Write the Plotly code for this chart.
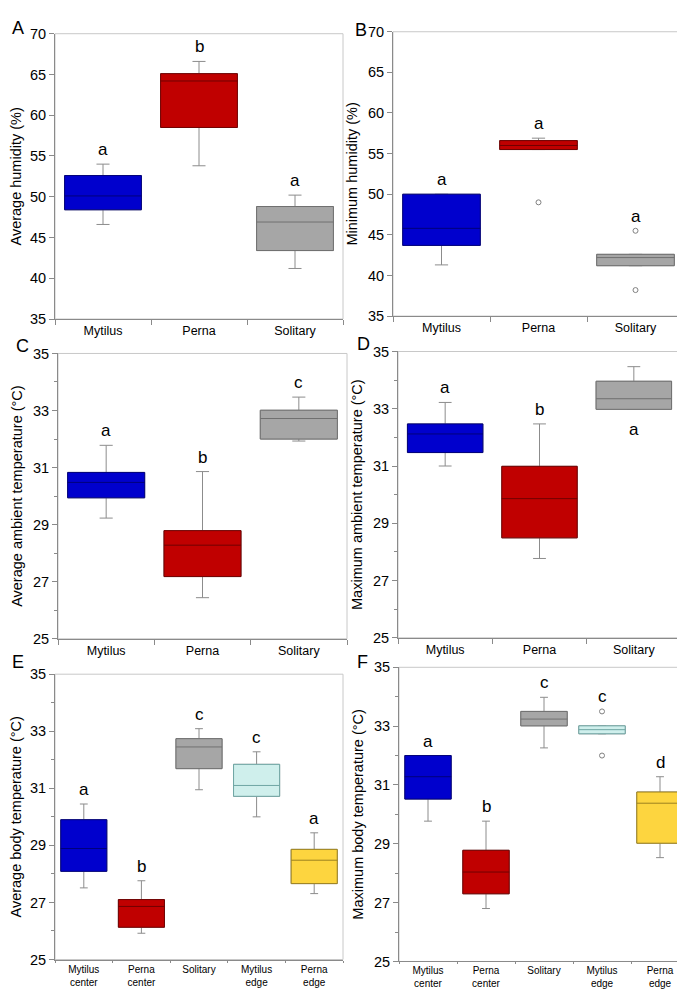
import plotly.graph_objects as go

W, H = 685, 990

# categories
groups3 = ["Mytilus", "Perna", "Solitary"]
groups5 = ["Mytilus<br>center", "Perna<br>center", "Solitary", "Mytilus<br>edge", "Perna<br>edge"]

# A - average humidity (%)
avg_hum_low = [46.6, 53.8, 41.2]
avg_hum_q1 = [48.4, 58.5, 43.4]
avg_hum_med = [50.1, 64.2, 46.9]
avg_hum_q3 = [52.6, 65.1, 48.8]
avg_hum_high = [54.0, 66.6, 50.2]
avg_hum_out = [[], [], []]
avg_hum_letters = ["a", "b", "a"]

# B - minimum humidity (%)
min_hum_low = [41.3, 55.5, 41.2]
min_hum_q1 = [43.7, 55.5, 41.2]
min_hum_med = [45.8, 56.0, 42.2]
min_hum_q3 = [50.0, 56.6, 42.6]
min_hum_high = [50.0, 56.9, 42.6]
min_hum_out = [[], [49.0], [45.5, 38.2]]
min_hum_letters = ["a", "a", "a"]

# C - average ambient temperature (°C)
avg_amb_low = [29.23, 26.44, 31.93]
avg_amb_q1 = [29.94, 27.18, 32.0]
avg_amb_med = [30.48, 28.28, 32.72]
avg_amb_q3 = [30.83, 28.79, 33.01]
avg_amb_high = [31.78, 30.86, 33.47]
avg_amb_out = [[], [], []]
avg_amb_letters = ["a", "b", "c"]

# D - maximum ambient temperature (°C)
max_amb_low = [31.0, 27.77, 32.98]
max_amb_q1 = [31.47, 28.49, 32.98]
max_amb_med = [32.12, 29.86, 33.35]
max_amb_q3 = [32.47, 30.99, 33.96]
max_amb_high = [33.22, 32.47, 34.47]
max_amb_out = [[], [], []]
max_amb_letters = ["a", "b", "a"]

# E - average body temperature (°C)
avg_body_low = [27.51, 25.92, 30.95, 30.0, 27.31]
avg_body_q1 = [28.09, 26.13, 31.69, 30.72, 27.66]
avg_body_med = [28.89, 26.86, 32.45, 31.1, 28.48]
avg_body_q3 = [29.9, 27.1, 32.74, 31.84, 28.86]
avg_body_high = [30.45, 27.76, 33.09, 32.28, 29.44]
avg_body_out = [[], [], [], [], []]
avg_body_letters = ["a", "b", "c", "c", "a"]

# F - maximum body temperature (°C)
max_body_low = [29.77, 26.8, 32.26, 32.74, 28.53]
max_body_q1 = [30.52, 27.3, 33.01, 32.74, 29.02]
max_body_med = [31.28, 28.04, 33.24, 32.88, 30.38]
max_body_q3 = [32.0, 28.78, 33.5, 33.01, 30.76]
max_body_high = [32.0, 29.77, 33.98, 33.01, 31.28]
max_body_out = [[], [], [], [33.5, 32.0], []]
max_body_letters = ["a", "b", "c", "c", "d"]

fills = ["#0000CD", "#C00000", "#A6A6A6", "#CFEFEC", "#FDD53F"]
edges = ["#00007A", "#700000", "#707070", "#6FA6A4", "#9C8220"]
whisk = "#8C8C8C"
font_fam = "Arial, Liberation Sans, sans-serif"

# panel boxes in pixels: left, right, top, bottom
panels = [
    dict(tag="A", cats=groups3, low=avg_hum_low, q1=avg_hum_q1, med=avg_hum_med, q3=avg_hum_q3,
         high=avg_hum_high, out=avg_hum_out, letters=avg_hum_letters, title="Average humidity (%)",
         px=(47, 335, 18, 308), rng=[35, 70], dtick=5, lab=(10, 12)),
    dict(tag="B", cats=groups3, low=min_hum_low, q1=min_hum_q1, med=min_hum_med, q3=min_hum_q3,
         high=min_hum_high, out=min_hum_out, letters=min_hum_letters, title="Minimum humidity (%)",
         px=(385, 676, 16, 305), rng=[35, 70], dtick=5, lab=(353, 14)),
    dict(tag="C", cats=groups3, low=avg_amb_low, q1=avg_amb_q1, med=avg_amb_med, q3=avg_amb_q3,
         high=avg_amb_high, out=avg_amb_out, letters=avg_amb_letters,
         title="Average ambient temperature (°C)",
         px=(50, 339, 343, 633), rng=[25, 35], dtick=2, lab=(14, 335)),
    dict(tag="D", cats=groups3, low=max_amb_low, q1=max_amb_q1, med=max_amb_med, q3=max_amb_q3,
         high=max_amb_high, out=max_amb_out, letters=max_amb_letters,
         title="Maximum ambient temperature (°C)",
         px=(390, 673, 341, 632), rng=[25, 35], dtick=2, lab=(355, 333)),
    dict(tag="E", cats=groups5, low=avg_body_low, q1=avg_body_q1, med=avg_body_med, q3=avg_body_q3,
         high=avg_body_high, out=avg_body_out, letters=avg_body_letters,
         title="Average body temperature (°C)",
         px=(47, 335, 669, 959), rng=[25, 35], dtick=2, lab=(10, 657)),
    dict(tag="F", cats=groups5, low=max_body_low, q1=max_body_q1, med=max_body_med, q3=max_body_q3,
         high=max_body_high, out=max_body_out, letters=max_body_letters,
         title="Maximum body temperature (°C)",
         px=(391, 681, 662, 961), rng=[25, 35], dtick=2, lab=(354, 657)),
]

# letters drawn below the box instead of above
letters_below = {("D", 2)}

fig = go.Figure()
layout = dict(width=W, height=H, margin=dict(l=0, r=0, t=0, b=0),
              plot_bgcolor="white", paper_bgcolor="white", showlegend=False,
              boxmode="overlay", font=dict(family=font_fam, color="black"))
annotations = []
shapes = []

for i, p in enumerate(panels):
    n = "" if i == 0 else str(i + 1)
    xa, ya = "x" + n, "y" + n
    l, r, t, b = p["px"]
    ncat = len(p["cats"])
    small = ncat == 5
    for j, cat in enumerate(p["cats"]):
        # whiskers layer
        fig.add_trace(go.Box(
            x=[cat], q1=[p["q1"][j]], median=[p["med"][j]], q3=[p["q3"][j]],
            lowerfence=[p["low"][j]], upperfence=[p["high"][j]],
            fillcolor="rgba(0,0,0,0)", line=dict(color=whisk, width=1),
            whiskerwidth=0.17, width=0.8, boxpoints=False, hoverinfo="skip",
            xaxis=xa, yaxis=ya))
        # coloured box layer
        fig.add_trace(go.Box(
            x=[cat], q1=[p["q1"][j]], median=[p["med"][j]], q3=[p["q3"][j]],
            lowerfence=[p["q1"][j]], upperfence=[p["q3"][j]],
            fillcolor=fills[j], line=dict(color=edges[j], width=1),
            whiskerwidth=0.0, width=0.8, boxpoints=False, hoverinfo="skip",
            xaxis=xa, yaxis=ya))
        if p["out"][j]:
            fig.add_trace(go.Scatter(
                x=[cat] * len(p["out"][j]), y=p["out"][j], mode="markers",
                marker=dict(symbol="circle-open", size=5, color="#808080", line=dict(width=1)),
                hoverinfo="skip", xaxis=xa, yaxis=ya))
        if (p["tag"], j) in letters_below:
            annotations.append(dict(x=cat, y=p["low"][j], xref=xa, yref=ya, text=p["letters"][j],
                                    showarrow=False, yanchor="top", yshift=-9,
                                    font=dict(size=17)))
        else:
            top = max([p["high"][j]] + p["out"][j])
            annotations.append(dict(x=cat, y=top, xref=xa, yref=ya, text=p["letters"][j],
                                    showarrow=False, yanchor="bottom", yshift=3,
                                    font=dict(size=17)))

    layout["xaxis" + n] = dict(
        domain=[l / W, r / W], anchor=ya, type="category",
        categoryorder="array", categoryarray=p["cats"], range=[-0.5, ncat - 0.5],
        showline=True, linecolor="#8A8A8A", linewidth=1,
        ticks="outside", tickson="boundaries", ticklen=2 if small else 5, tickcolor="#8A8A8A",
        tickfont=dict(size=10 if small else 12.5), showgrid=False, zeroline=False,
        fixedrange=True)
    ymin, ymax = p["rng"]
    yax = dict(
        domain=[1 - b / H, 1 - t / H], anchor=xa, range=[ymin, ymax],
        tick0=ymin, dtick=p["dtick"], showline=True, linecolor="#8A8A8A", linewidth=1,
        ticks="outside", ticklen=5, tickcolor="#8A8A8A", tickfont=dict(size=14.5),
        showgrid=False, zeroline=False, fixedrange=True,
        title=dict(text=p["title"], font=dict(size=14.5), standoff=6))
    if p["dtick"] == 2:
        yax["minor"] = dict(dtick=1, ticks="outside", ticklen=3, tickcolor="#8A8A8A", showgrid=False)
    layout["yaxis" + n] = yax

    shapes.append(dict(type="rect", xref=xa + " domain", yref=ya + " domain",
                       x0=0, x1=1, y0=0, y1=1, layer="below",
                       line=dict(color="#C8C8C8", width=1)))
    lx, ly = p["lab"]
    annotations.append(dict(x=lx / W, y=1 - ly / H, xref="paper", yref="paper",
                            text=p["tag"], showarrow=False, xanchor="center", yanchor="middle",
                            font=dict(size=18)))

layout["annotations"] = annotations
layout["shapes"] = shapes
fig.update_layout(**layout)

fig.write_html("out.html")
